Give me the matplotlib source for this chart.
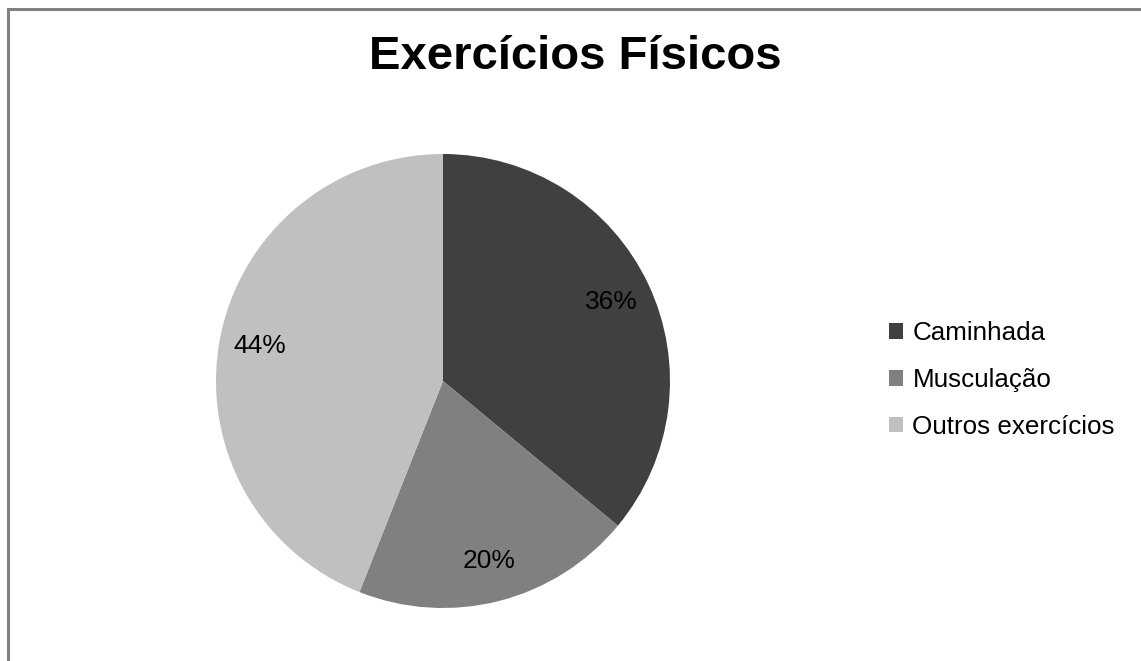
import matplotlib
matplotlib.use('Agg')
import matplotlib.pyplot as plt
from matplotlib.patches import Rectangle, Patch

plt.rcParams['font.family'] = ['Liberation Sans', 'DejaVu Sans']

# data
categorias = ['Caminhada', 'Musculação', 'Outros exercícios']
valores = [36, 20, 44]
cores = ['#404040', '#808080', '#c0c0c0']
titulo = 'Exercícios Físicos'

W, H = 1141, 661
fig = plt.figure(figsize=(W / 100, H / 100), dpi=100)

# moldura cinza (so aparecem topo e esquerda)
fig.patches.append(Rectangle((8 / W, 0 - 0.1), 1.2, (H - 9) / H + 0.1,
                             transform=fig.transFigure, fill=False,
                             edgecolor='#808080', linewidth=2.2))

# pie: centro (443, 381), raio 227 px
cx, cy, r = 443, 381, 227
ax = fig.add_axes([(cx - r) / W, (H - cy - r) / H, 2 * r / W, 2 * r / H])
wedges, texts, autotexts = ax.pie(valores, colors=cores, startangle=90,
                                  counterclock=False, radius=1,
                                  autopct='%1.0f%%', pctdistance=0.82,
                                  textprops={'fontsize': 19, 'color': 'black'})
ax.set_xlim(-1, 1)
ax.set_ylim(-1, 1)
ax.set_aspect('equal')

fig.text(575 / W, 1 - 57 / H, titulo, ha='center', va='center',
         fontsize=34, fontweight='bold')

handles = [Patch(facecolor=c, edgecolor='none') for c in cores]
fig.legend(handles, categorias, loc='center left',
           bbox_to_anchor=(889 / W, 1 - 380 / H), frameon=False,
           fontsize=18.7, handlelength=0.55, handleheight=0.55,
           handletextpad=0.35, labelspacing=0.88, borderpad=0, borderaxespad=0)

fig.savefig('out.png', dpi=100)
